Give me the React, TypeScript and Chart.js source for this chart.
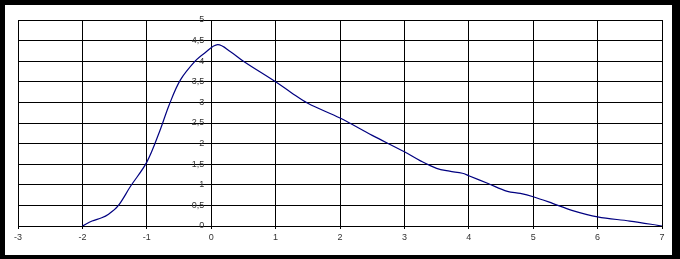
import React, { useEffect, useRef } from "react";
import { Chart, registerables } from "chart.js";

Chart.register(...registerables);

const xValues = [-2, -1.85, -1.7, -1.6, -1.45, -1.25, -1, -0.8, -0.65, -0.48, -0.25, -0.1, 0.1, 0.3, 0.5, 1, 1.25, 1.5, 2, 2.5, 3, 3.25, 3.5, 3.7, 3.9, 4.0, 4.3, 4.6, 4.8, 5.0, 5.3, 5.6, 6.0, 6.5, 7.0];
const yValues = [0, 0.12, 0.2, 0.28, 0.48, 0.97, 1.55, 2.3, 2.95, 3.54, 4.0, 4.2, 4.4, 4.23, 4.0, 3.5, 3.23, 2.98, 2.62, 2.2, 1.8, 1.58, 1.4, 1.33, 1.28, 1.22, 1.03, 0.84, 0.79, 0.71, 0.55, 0.38, 0.22, 0.12, 0];
const xTickMin = -3;
const xTickMax = 7;
const yTickMin = 0;
const yTickMax = 5;
const yTickStep = 0.5;

const fontFamily = "'Liberation Sans', Arial, sans-serif";
const fmt = (v: number) => String(v).replace(".", ",");

const yLabelPlugin = {
  id: "yLabelsAtZero",
  afterDraw(chart: any) {
    const ys = chart.scales.y;
    const xs = chart.scales.x;
    const x0 = xs.getPixelForValue(0);
    const ctx = chart.ctx;
    ctx.save();
    ctx.font = `9px ${fontFamily}`;
    ctx.fillStyle = "#333";
    ctx.textAlign = "right";
    ctx.textBaseline = "middle";
    ys.ticks.forEach((t: any) => {
      ctx.fillText(fmt(t.value), x0 - 7, ys.getPixelForValue(t.value));
    });
    ctx.restore();
  },
};

export default function App() {
  const canvasRef = useRef<HTMLCanvasElement | null>(null);

  useEffect(() => {
    if (!canvasRef.current) return;
    const points = xValues.map((x, i) => ({ x, y: yValues[i] }));
    const font = { family: fontFamily, size: 9 };
    const chart = new Chart(canvasRef.current, {
      type: "line",
      data: {
        datasets: [
          {
            data: points,
            borderColor: "#000080",
            borderWidth: 1.2,
            pointRadius: 0,
            tension: 0.35,
            fill: false,
          },
        ],
      },
      options: {
        animation: false,
        responsive: false,
        maintainAspectRatio: false,
        layout: { padding: { left: 13, right: 10, top: 15, bottom: 0 } },
        plugins: { legend: { display: false }, tooltip: { enabled: false } },
        scales: {
          x: {
            type: "linear",
            position: "bottom",
            min: xTickMin,
            max: xTickMax,
            afterFit: (s: any) => {
              s.height = 29;
            },
            ticks: { stepSize: 1, color: "#333", font, padding: 3, maxRotation: 0 },
            grid: { color: "#000", lineWidth: 1, tickLength: 3, tickColor: "#000" },
            border: { color: "#000", width: 1 },
          },
          y: {
            type: "linear",
            position: { x: 0 } as any,
            min: yTickMin,
            max: yTickMax,
            ticks: {
              stepSize: yTickStep,
              display: false,
            },
            grid: { color: "#000", lineWidth: 1, tickLength: 3, tickColor: "#000" },
            border: { color: "#000", width: 1 },
          },
        },
      },
      plugins: [yLabelPlugin],
    });
    return () => chart.destroy();
  }, []);

  return (
    <div style={{ position: "fixed", left: 0, top: 0, width: 680, height: 259, background: "#000" }}>
      <div style={{ position: "absolute", left: 5, top: 5, width: 667, height: 250, background: "#fff" }}>
        <canvas ref={canvasRef} width={667} height={250} style={{ display: "block" }} />
      </div>
    </div>
  );
}
